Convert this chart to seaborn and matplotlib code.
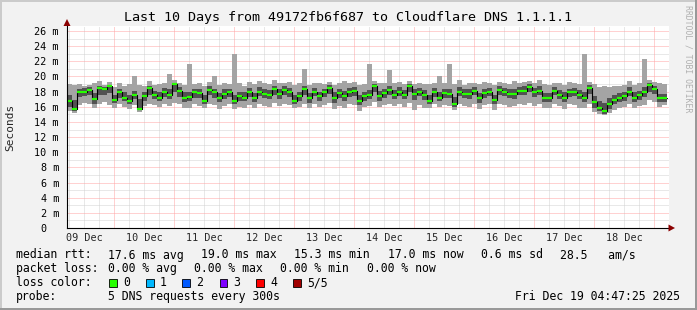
import numpy as np
import pandas as pd
import matplotlib
matplotlib.use("Agg")
import matplotlib.pyplot as plt
import matplotlib.dates as mdates
from matplotlib.patches import Rectangle, Polygon
import seaborn as sns

# ---------------- data (2-hour bins, ms) ----------------
median = [16.7, 15.7, 18.0, 18.0, 18.2, 17.0, 18.5, 18.3, 18.7, 16.9, 17.9, 17.2, 16.7, 17.6, 15.7, 17.4, 18.5, 17.6, 17.2, 18.0, 17.6, 19.0, 18.1, 17.2,
          17.3, 17.9, 17.8, 16.7, 18.2, 17.9, 17.1, 17.7, 17.9, 16.8, 17.4, 17.2, 18.0, 17.2, 18.0, 17.7, 17.6, 18.3, 17.7, 18.2, 17.9, 16.7, 17.4, 18.3,
          17.1, 18.0, 17.4, 17.9, 18.5, 17.1, 17.8, 17.4, 17.9, 18.1, 16.7, 17.4, 17.6, 18.7, 17.4, 17.8, 18.2, 17.6, 18.0, 17.6, 18.7, 17.7, 18.0, 17.6,
          16.7, 18.0, 17.2, 17.8, 17.7, 16.3, 18.0, 17.7, 17.7, 18.1, 17.1, 17.8, 18.0, 16.9, 18.2, 18.0, 17.7, 17.7, 18.1, 18.1, 18.6, 17.9, 18.1, 17.1,
          17.1, 18.1, 17.6, 17.2, 17.9, 18.0, 17.6, 17.2, 18.5, 16.6, 15.9, 15.4, 16.3, 16.9, 17.2, 17.4, 18.0, 17.2, 17.5, 18.0, 18.9, 18.4, 17.1, 17.1]

ping_lo = [15.5, 15.2, 16.2, 16.5, 16.3, 15.8, 16.4, 16.6, 16.2, 15.9, 16.3, 16.0, 15.7, 16.2, 15.3, 16.1, 16.4, 16.2, 16.0, 16.3, 16.1, 16.5, 16.3, 15.9,
           15.8, 16.3, 16.1, 15.8, 16.4, 16.2, 15.7, 16.1, 16.3, 15.7, 16.0, 15.9, 16.2, 15.8, 16.3, 16.1, 16.0, 16.5, 16.1, 16.3, 16.2, 15.8, 16.0, 16.4,
           15.9, 16.4, 16.0, 16.2, 16.5, 15.7, 16.1, 15.9, 16.3, 16.2, 15.5, 16.0, 16.1, 16.6, 16.0, 16.2, 16.4, 16.1, 16.3, 16.0, 16.5, 15.6, 16.2, 15.9,
           15.8, 16.3, 16.0, 16.2, 16.1, 15.6, 16.3, 16.1, 16.0, 16.4, 15.7, 16.2, 16.3, 15.6, 16.4, 16.2, 16.0, 16.1, 16.4, 16.2, 16.5, 16.1, 16.3, 15.9,
           15.8, 16.4, 16.1, 15.7, 16.3, 16.2, 15.9, 15.8, 16.4, 15.3, 15.0, 14.9, 15.2, 15.6, 15.9, 16.0, 16.3, 15.8, 16.1, 16.2, 16.9, 16.6, 16.0, 16.2]

ping_q1 = [16.0, 15.5, 17.3, 17.4, 17.5, 16.4, 17.6, 17.5, 17.8, 16.5, 17.2, 16.7, 16.3, 17.0, 15.6, 16.8, 17.6, 17.0, 16.7, 17.3, 17.0, 17.9, 17.3, 16.6,
           16.7, 17.2, 17.1, 16.3, 17.5, 17.2, 16.6, 17.0, 17.3, 16.4, 16.8, 16.7, 17.3, 16.6, 17.4, 17.1, 17.0, 17.6, 17.0, 17.5, 17.3, 16.3, 16.8, 17.6,
           16.5, 17.4, 16.8, 17.3, 17.7, 16.5, 17.1, 16.8, 17.3, 17.4, 16.2, 16.8, 17.0, 17.9, 16.8, 17.2, 17.5, 17.0, 17.4, 17.0, 17.9, 16.9, 17.4, 16.9,
           16.3, 17.3, 16.7, 17.2, 17.1, 16.0, 17.4, 17.1, 17.0, 17.5, 16.5, 17.2, 17.4, 16.4, 17.6, 17.4, 17.1, 17.0, 17.5, 17.5, 17.9, 17.3, 17.5, 16.6,
           16.6, 17.5, 17.0, 16.6, 17.3, 17.4, 17.0, 16.6, 17.7, 15.9, 15.4, 15.1, 15.7, 16.3, 16.6, 16.8, 17.4, 16.6, 16.9, 17.3, 18.0, 17.7, 16.6, 16.6]

ping_q3 = [17.6, 16.9, 18.4, 18.5, 18.6, 17.8, 18.8, 18.6, 18.9, 17.6, 18.4, 17.9, 17.5, 18.1, 17.0, 18.0, 18.8, 18.1, 17.9, 18.5, 18.3, 19.1, 18.6, 17.9,
           18.0, 18.4, 18.3, 17.5, 18.7, 18.4, 17.8, 18.3, 18.4, 17.6, 18.0, 17.9, 18.5, 17.8, 18.6, 18.3, 18.2, 18.8, 18.3, 18.7, 18.5, 17.5, 18.0, 18.8,
           17.8, 18.5, 18.0, 18.4, 18.9, 17.9, 18.4, 18.1, 18.5, 18.6, 17.5, 18.0, 18.2, 19.0, 18.1, 18.4, 18.7, 18.2, 18.6, 18.2, 19.0, 18.3, 18.5, 18.2,
           17.5, 18.5, 17.9, 18.4, 18.3, 17.3, 18.6, 18.3, 18.3, 18.6, 17.8, 18.4, 18.5, 17.6, 18.7, 18.5, 18.3, 18.4, 18.6, 18.7, 19.0, 18.5, 18.7, 17.8,
           17.8, 18.6, 18.2, 17.9, 18.4, 18.5, 18.2, 17.9, 18.9, 17.4, 16.8, 16.5, 17.1, 17.6, 17.8, 18.0, 18.6, 17.9, 18.1, 18.6, 19.1, 18.8, 17.7, 17.7]

ping_hi = [19.0, 18.9, 19.0, 18.7, 18.9, 19.2, 19.4, 18.9, 19.3, 18.6, 19.1, 18.8, 19.0, 20.0, 18.9, 18.8, 19.4, 18.9, 19.0, 19.2, 20.3, 19.5, 19.1, 18.9,
           21.6, 19.0, 19.1, 18.7, 19.3, 20.0, 18.9, 19.2, 19.0, 22.9, 19.1, 18.8, 19.3, 19.0, 19.4, 19.1, 19.0, 19.5, 19.1, 19.2, 19.3, 18.9, 19.1, 21.0,
           18.9, 19.1, 19.2, 19.0, 19.3, 18.9, 19.1, 19.4, 19.2, 19.3, 18.9, 19.0, 21.6, 19.4, 19.1, 19.2, 20.8, 19.1, 19.3, 19.0, 19.4, 19.0, 19.1, 19.0,
           19.0, 19.2, 20.0, 19.1, 21.6, 19.0, 19.5, 18.9, 19.1, 19.2, 19.0, 19.3, 19.1, 18.9, 19.3, 19.2, 19.0, 19.4, 19.1, 19.3, 19.4, 19.2, 19.5, 19.0,
           18.9, 19.2, 19.1, 18.9, 19.3, 19.2, 19.0, 23.0, 19.3, 19.0, 18.6, 18.7, 18.6, 18.8, 18.7, 18.9, 19.4, 18.9, 19.2, 22.3, 19.5, 19.3, 19.1, 19.0]

day_labels = ["09 Dec", "10 Dec", "11 Dec", "12 Dec", "13 Dec",
              "14 Dec", "15 Dec", "16 Dec", "17 Dec", "18 Dec"]
y_ticks = [0, 2, 4, 6, 8, 10, 12, 14, 16, 18, 20, 22, 24, 26]
y_tick_labels = ["0\u00a0\u00a0"] + [f"{v} m" for v in y_ticks[1:]]

title = "Last 10 Days from 49172fb6f687 to Cloudflare DNS 1.1.1.1"
rtt_items = ["17.6 ms avg", "19.0 ms max", "15.3 ms min", "17.0 ms now", "0.6 ms sd", "28.5   am/s"]
loss_items = ["0.00 % avg", "0.00 % max", "0.00 % min", "0.00 % now"]
loss_labels = ["0", "1", "2", "3", "4", "5/5"]
loss_colors = ["#26ff00", "#00b8ff", "#0059ff", "#7e00ff", "#ff0000", "#a10000"]
probe_text = "5 DNS requests every 300s"
stamp_text = "Fri Dec 19 04:47:25 2025"

# ---------------- figure ----------------
W, H = 697, 310
MONO = "DejaVu Sans Mono"
sns.set_style("white")
plt.rcParams["font.family"] = [MONO, "DejaVu Sans"]

fig = plt.figure(figsize=(W / 100, H / 100), dpi=100, facecolor="#f2f2f2")

def fx(px):
    return px / W

def fy(py):
    return 1 - py / H

# 3D frame
fig.patches.append(Rectangle((0, fy(2)), 1, 2 / H, transform=fig.transFigure, color="#cbcbcb", lw=0))
fig.patches.append(Rectangle((0, 0), 2 / W, 1, transform=fig.transFigure, color="#cbcbcb", lw=0))
fig.patches.append(Rectangle((0, 0), 1, 2 / H, transform=fig.transFigure, color="#999999", lw=0))
fig.patches.append(Rectangle((1 - 2 / W, 0), 2 / W, 1, transform=fig.transFigure, color="#999999", lw=0))

ax_l, ax_r, ax_t, ax_b = 67, 669, 26, 228
ax = fig.add_axes([fx(ax_l), fy(ax_b), (ax_r - ax_l) / W, (ax_b - ax_t) / H])
ax.set_facecolor("white")

px_per_ms = 197 / 26.0
ax.set_ylim(0, (ax_b - ax_t) / px_per_ms)

start = pd.Timestamp("2025-12-09 05:12")
edges = pd.date_range(start, periods=len(median) + 1, freq="2h")
x_end = start + pd.Timedelta(hours=240.8)
ax.set_xlim(mdates.date2num(start), mdates.date2num(x_end))

# grid (dotted)
GRID_KW = dict(lw=0.72, ls=(0, (1, 1)), antialiased=True, snap=True)
minor_t = pd.date_range("2025-12-09 06:00", "2025-12-19 06:00", freq="6h")
for t in minor_t:
    if t.hour != 0:
        ax.axvline(mdates.date2num(t), color="#d2d2d2", zorder=0.5, **GRID_KW)
for v in range(1, 27, 2):
    ax.axhline(v, color="#d2d2d2", zorder=0.5, **GRID_KW)
day_bounds = pd.date_range("2025-12-10", "2025-12-19", freq="D")
for t in day_bounds:
    ax.axvline(mdates.date2num(t), color="#ffa4a4", zorder=0.6, **GRID_KW)
for v in range(2, 27, 2):
    ax.axhline(v, color="#ffa4a4", zorder=0.6, **GRID_KW)

# smoke
ext = lambda a: list(a) + [a[-1]]
ax.fill_between(edges, ext(ping_lo), ext(ping_hi), step="post", color="#a4a4a4", lw=0, zorder=2)
ax.fill_between(edges, ext(ping_q1), ext(ping_q3), step="post", color="#525252", lw=0, zorder=2.5)

# median
df = pd.DataFrame({"time": edges, "median": ext(median)})
sns.lineplot(data=df, x="time", y="median", ax=ax, color="black", lw=0.8,
             drawstyle="steps-post", estimator=None, zorder=3)
ax.hlines(median, edges[:-1], edges[1:], color="#26ff00", lw=1.6, zorder=4)

ax.set_xlabel("")
ax.set_ylabel("")
for s in ["top", "right"]:
    ax.spines[s].set_visible(False)
for s in ["left", "bottom"]:
    ax.spines[s].set_color("black")
    ax.spines[s].set_linewidth(0.8)
    ax.spines[s].set_zorder(6)

ax.set_yticks(y_ticks)
ax.set_yticklabels(y_tick_labels, fontsize=7.3, family=MONO)
ax.tick_params(axis="y", length=2.2, width=0.72, pad=3.6, direction="out", colors="black")

ax.set_xticks(mdates.date2num(day_bounds))
ax.set_xticklabels([""] * len(day_bounds))
ax.tick_params(axis="x", which="major", length=2.2, width=0.72, direction="out")
noon = pd.date_range("2025-12-09 12:00", periods=len(day_labels), freq="D")
ax.set_xticks(mdates.date2num(noon), minor=True)
ax.set_xticklabels(day_labels, minor=True, fontsize=7.3, family=MONO)
ax.tick_params(axis="x", which="minor", length=0, pad=3.6)

# axis arrows
fig.patches.append(Polygon([(fx(67), fy(19)), (fx(63.5), fy(26)), (fx(70.5), fy(26))],
                           closed=True, transform=fig.transFigure, color="#8b0000", lw=0))
fig.patches.append(Polygon([(fx(675), fy(228)), (fx(668.5), fy(224.5)), (fx(668.5), fy(231.5))],
                           closed=True, transform=fig.transFigure, color="#8b0000", lw=0))

# texts
fig.text(fx(348.5), fy(18), title, ha="center", va="center", fontsize=9.6, family=MONO, color="black")
fig.text(fx(10), fy(127), "Seconds", rotation=90, ha="center", va="center", fontsize=8.0, family=MONO)
fig.text(fx(688), fy(59), "RRDTOOL / TOBI OETIKER", rotation=270, ha="center", va="center",
         fontsize=5.9, family=MONO, color="#b0b0b0")

FS = 8.3
CW = 0.602 * FS * 100 / 72     # monospace char width in px
GAP = 17.0                      # gap between legend items in px

def t(px, py, s, ha="left"):
    fig.text(fx(px), fy(py), s, ha=ha, va="center", fontsize=FS, family=MONO, color="black")

def row(py, label, items, x0=107.6):
    t(16, py, label)
    x = x0
    for s in items:
        t(x, py, s)
        x += len(s) * CW + GAP

row(255, "median rtt:", rtt_items)
row(268.5, "packet loss:", loss_items)

t(16, 282.5, "loss color:")
box_x = [109, 146, 182, 219.5, 256, 293]
lab_x = [123.5, 160, 196, 233, 270, 307.5]
for bx, lx, lab, col in zip(box_x, lab_x, loss_labels, loss_colors):
    fig.patches.append(Rectangle((fx(bx), fy(286.5)), 7.5 / W, 8 / H, transform=fig.transFigure,
                                 facecolor=col, edgecolor="black", lw=0.6))
    t(lx, 282.5, lab)

t(16, 296.5, "probe:")
t(107.6, 296.5, probe_text)
t(680, 296.5, stamp_text, ha="right")

fig.savefig("out.png", dpi=100, facecolor=fig.get_facecolor())
